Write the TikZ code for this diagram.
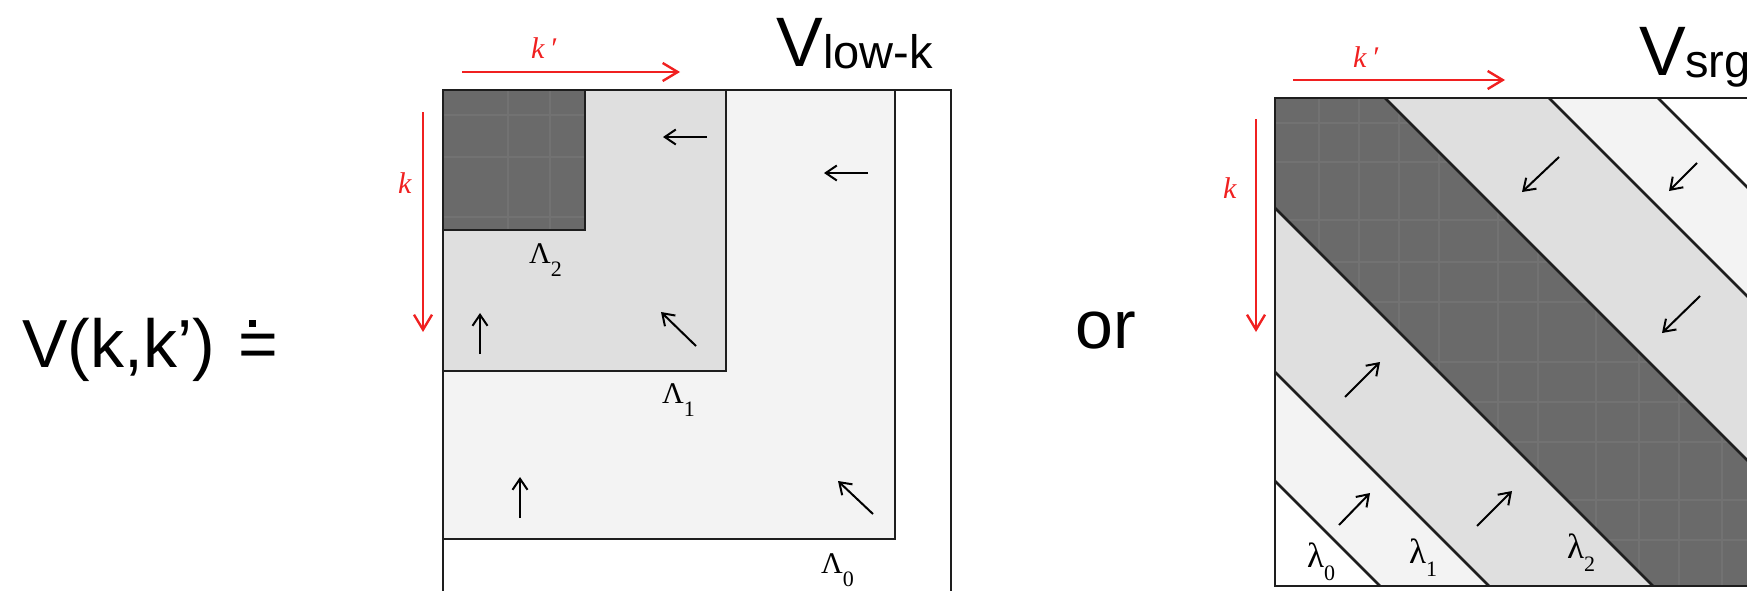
\documentclass[tikz,border=0pt]{standalone}
\usepackage{fontspec}
\setmainfont{Liberation Serif}
\newfontfamily\sansf{Liberation Sans}
\usetikzlibrary{arrows.meta}
\definecolor{kred}{RGB}{240,32,32}
\definecolor{darkfill}{RGB}{106,106,106}
\definecolor{gridc}{RGB}{114,114,114}
\definecolor{midfill}{RGB}{223,223,223}
\definecolor{lightfill}{RGB}{243,243,243}
\definecolor{edgec}{RGB}{30,30,30}
\newcommand\lsub[1]{\raisebox{-13pt}{\fontsize{22}{22}\selectfont #1}}
\begin{document}
\begin{tikzpicture}[x=1pt,y=-1pt,
  mline/.style={draw=edgec, line width=2.6pt},
  gridl/.style={draw=gridc, line width=1.2pt},
  flow/.style={draw=black, line width=2pt, -{Straight Barb[length=11pt,width=15pt]}},
  kaxis/.style={draw=kred, line width=2.4pt, -{Straight Barb[length=15pt,width=18pt]}},
  klab/.style={text=kred, inner sep=0pt, anchor=base west, font=\fontsize{30}{30}\selectfont\itshape},
  biglab/.style={inner sep=0pt, anchor=base west, font=\sansf\fontsize{68}{68}\selectfont},
  sublab/.style={inner sep=0pt, anchor=base west, font=\sansf\fontsize{47}{47}\selectfont},
  Lab/.style={inner sep=0pt, anchor=base west, font=\fontsize{30}{30}\selectfont},
  lab/.style={inner sep=0pt, anchor=base west, font=\fontsize{35}{35}\selectfont}]
\useasboundingbox (0,0) rectangle (1747,590);

% ---------- left side formula ----------
\node[biglab] (lhs) at (22,367) {V(k,k’)};
\node[biglab] (eq) at (238,367) {=};
\fill[black] (248.5,319.5) rectangle (255.5,326.5);
\node[biglab] (or) at (1075,348) {or};

% ---------- V low-k matrix ----------
\draw[mline, fill=white] (443,90) rectangle (951,598);
\draw[mline, fill=lightfill] (443,90) rectangle (895,539);
\draw[mline, fill=midfill] (443,90) rectangle (726,371);
\fill[darkfill] (443,90) rectangle (585,230);
\begin{scope}
  \clip (443,90) rectangle (585,230);
  \foreach \gx in {508,550} \draw[gridl] (\gx,90) -- (\gx,230);
  \foreach \gy in {115,157,217} \draw[gridl] (443,\gy) -- (585,\gy);
\end{scope}
\draw[mline] (443,90) rectangle (585,230);
\draw[mline] (443,90) rectangle (951,598);

\node[Lab] (L2) at (529,263) {Λ\lsub{2}};
\node[Lab] (L1) at (662,403) {Λ\lsub{1}};
\node[Lab] (L0) at (821,573) {Λ\lsub{0}};

\node[sublab, font=\sansf\fontsize{70}{70}\selectfont] (Vl) at (776,66) {V};
\node[sublab] (Vlsub) at (823,68) {low-k};

\coordinate (kp1s) at (462,72); \coordinate (kp1e) at (680,72);
\coordinate (k1s) at (423,112); \coordinate (k1e) at (423,332);
\draw[kaxis] (kp1s) -- (kp1e);
\draw[kaxis] (k1s) -- (k1e);
\node[klab] (kp1) at (531,58) {k\,′};
\node[klab] (k1) at (398,193) {k};

\coordinate (a1s) at (707,137); \coordinate (a1e) at (663,137);
\coordinate (a2s) at (868,173); \coordinate (a2e) at (824,173);
\coordinate (a3s) at (480,354); \coordinate (a3e) at (480,313);
\coordinate (a4s) at (696,346); \coordinate (a4e) at (661,312);
\coordinate (a5s) at (520,518); \coordinate (a5e) at (520,477);
\coordinate (a6s) at (873,514); \coordinate (a6e) at (838,481);
\foreach \i in {1,...,6} \draw[flow] (a\i s) -- (a\i e);

% ---------- V srg matrix ----------
\begin{scope}
  \clip (1275,98) rectangle (1763,586);
  \fill[white] (1275,98) rectangle (1763,586);
  \fill[lightfill] (1175,-385) -- (1875,315) -- (1875,1081) -- (1175,381) -- cycle;
  \fill[midfill] (1175,-276) -- (1875,424) -- (1875,972) -- (1175,272) -- cycle;
  \fill[darkfill] (1175,-112) -- (1875,588) -- (1875,808) -- (1175,108) -- cycle;
  \begin{scope}
    \clip (1175,-112) -- (1875,588) -- (1875,808) -- (1175,108) -- cycle;
    \foreach \gx in {1319,1359,1399,1439,1498,1538,1596,1639,1679,1722}
      \draw[gridl] (\gx,98) -- (\gx,586);
    \foreach \gy in {123,162,220,262,302,362,402,442,500,540}
      \draw[gridl] (1275,\gy) -- (1763,\gy);
  \end{scope}
  \foreach \d in {-383,-274,-110,110,274,383}
    \draw[mline] (1175,{-2+\d}) -- (1875,{698+\d});
\end{scope}
\draw[mline] (1275,98) rectangle (1763,586);

\node[lab] (l0) at (1307,567) {λ\lsub{0}};
\node[lab] (l1) at (1409,563) {λ\lsub{1}};
\node[lab] (l2) at (1567,558) {λ\lsub{2}};

\node[sublab, font=\sansf\fontsize{70}{70}\selectfont] (Vs) at (1639,75) {V};
\node[sublab] (Vssub) at (1685,77) {srg};

\coordinate (kp2s) at (1293,80); \coordinate (kp2e) at (1505,80);
\coordinate (k2s) at (1256,119); \coordinate (k2e) at (1256,332);
\draw[kaxis] (kp2s) -- (kp2e);
\draw[kaxis] (k2s) -- (k2e);
\node[klab] (kp2) at (1353,67) {k\,′};
\node[klab] (k2) at (1223,198) {k};

\coordinate (b1s) at (1559,157); \coordinate (b1e) at (1522,192);
\coordinate (b2s) at (1697,163); \coordinate (b2e) at (1669,191);
\coordinate (b3s) at (1700,296); \coordinate (b3e) at (1662,333);
\coordinate (b4s) at (1345,397); \coordinate (b4e) at (1380,362);
\coordinate (b5s) at (1339,525); \coordinate (b5e) at (1370,493);
\coordinate (b6s) at (1477,526); \coordinate (b6e) at (1512,491);
\foreach \i in {1,...,6} \draw[flow] (b\i s) -- (b\i e);
\end{tikzpicture}
\end{document}
